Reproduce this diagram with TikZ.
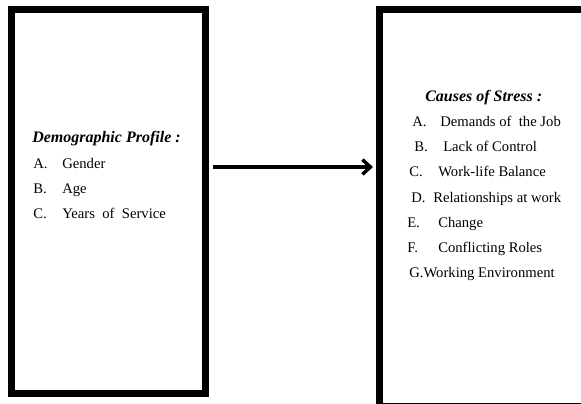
\documentclass[tikz,border=0pt]{standalone}
\usepackage{fontspec}
\setmainfont{Liberation Serif}
\usetikzlibrary{arrows.meta}

\tikzset{
  panel/.style={draw, line width=5.25pt, inner sep=0pt},
  heading/.style={font=\fontsize{12pt}{14pt}\selectfont\bfseries\itshape, anchor=base west},
  entry/.style={font=\fontsize{11pt}{13pt}\selectfont, anchor=base west},
  flow/.style={line width=2.6pt, -{Straight Barb[length=6pt,width=11pt]}}
}

\begin{document}
\begin{tikzpicture}[x=0.75pt, y=-0.75pt, every node/.style={inner sep=0pt}]
    \useasboundingbox (0,0) rectangle (581,403);
    \clip (0,0) rectangle (581,403);

    % Boxes
    \node[panel, minimum width=145.5pt, minimum height=288pt] (demo) at (108.5,201.5) {};
    \node[panel, minimum width=154.9pt, minimum height=297.4pt] (stress) at (482.75,207.75) {};

    % Left box text
    \node[heading] (demotitle) at (32,142) {Demographic Profile :};
    \foreach \lab/\txt [count=\i] in {A./Gender, B./Age, C./Years\ \ of\ \ Service} {
        \node[entry] (dl\i) at (33,143+25*\i) {\lab};
        \node[entry] (dt\i) at (62,143+25*\i) {\txt};
    }

    % Right box text
    \node[heading] (stresstitle) at (425,101) {Causes of Stress :};
    \foreach \lx/\tx/\yy/\lab/\txt [count=\i] in {
        412/440/126/A./Demands of\ \ the Job,
        414/443/151/B./Lack of Control,
        409/438/176/C./Work-life Balance,
        411/433/202/D./Relationships at work,
        407/438/227/E./Change,
        407/438/252/F./Conflicting Roles} {
        \node[entry] (sl\i) at (\lx,\yy) {\lab};
        \node[entry] (st\i) at (\tx,\yy) {\txt};
    }
    \node[entry] (st7) at (409,277) {G.Working Environment};

    % Arrow between the boxes
    \coordinate (lvl) at (0,167);
    \draw[flow, shorten <=3pt, shorten >=2.25pt] (demo.east |- lvl) -- (stress.west |- lvl);
\end{tikzpicture}
\end{document}
